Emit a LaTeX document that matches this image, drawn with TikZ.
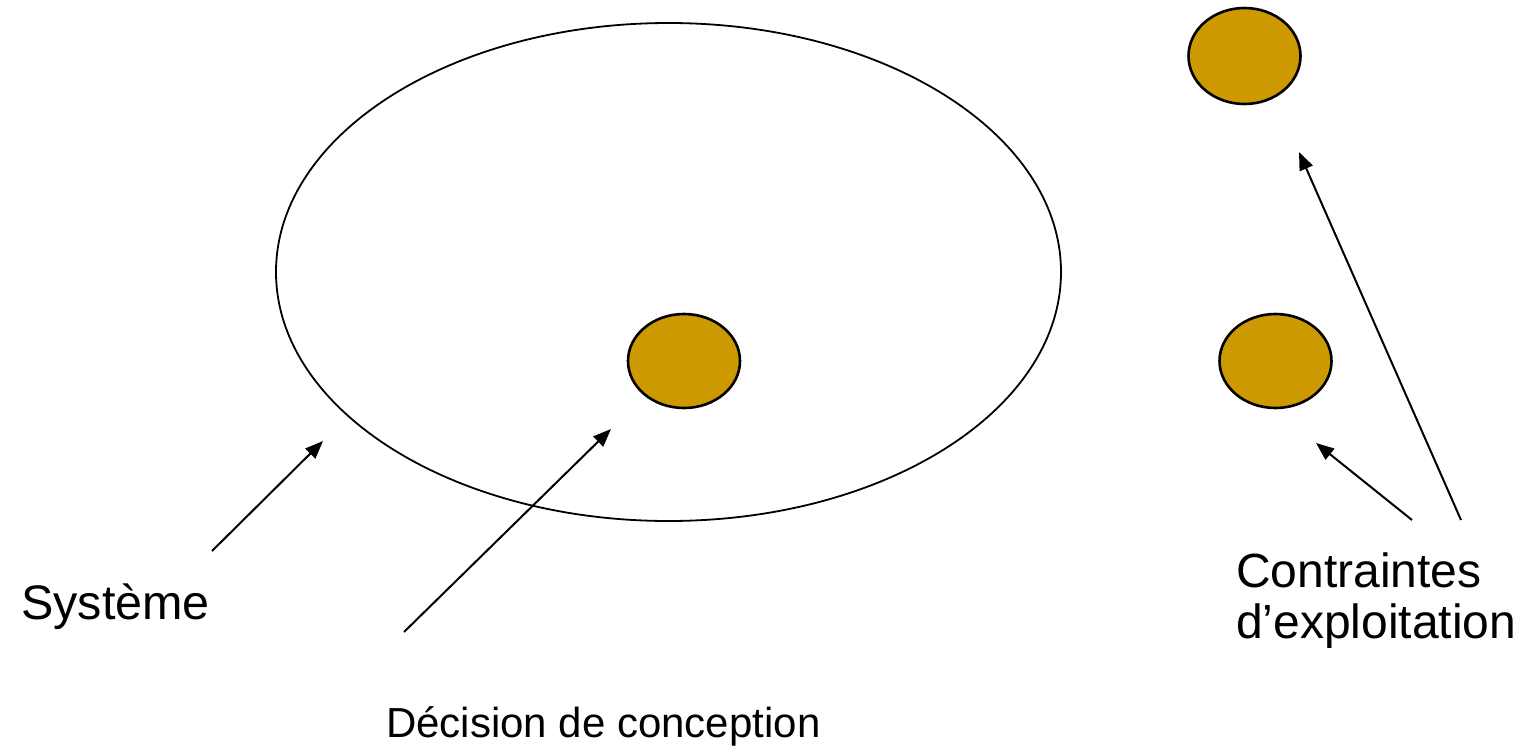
\documentclass[tikz,border=0pt]{standalone}
\usepackage{fontspec}
\setmainfont{Liberation Sans}
\usetikzlibrary{shapes.geometric,arrows.meta}
\definecolor{gold}{RGB}{204,153,0}
\tikzset{
  bigell/.style={draw=black,line width=1.8pt,ellipse,inner sep=0pt},
  dot/.style={draw=black,fill=gold,line width=2.6pt,ellipse,inner sep=0pt,minimum width=112pt,minimum height=94pt},
  lbl/.style={inner sep=0pt,anchor=base west,font=\fontsize{48.5}{51}\selectfont,align=left},
  arr/.style={line width=2pt,-{Triangle[length=18pt,width=14pt]}}
}
\begin{document}
\begin{tikzpicture}[x=1pt,y=-1pt]
\useasboundingbox (0,0) rectangle (1524,747);
\node[bigell,minimum width=785pt,minimum height=498pt] (sys) at (668.5,272) {};
\node[dot] (dec) at (684,361) {};
\node[dot,minimum height=96pt] (c1) at (1244.5,56) {};
\node[dot] (c2) at (1275.5,361) {};
\node[lbl] (tsys) at (21,619) {Système};
\node[lbl,font=\fontsize{42}{51}\selectfont] (tdec) at (386,737) {Décision de conception};
\node[lbl,anchor=north west,font=\fontsize{48}{51}\selectfont] (tcon) at (1236,553) {Contraintes\\d’exploitation};
\coordinate (s0) at (212,551);
\coordinate (s1) at (323,441);
\coordinate (d0) at (404,632);
\coordinate (d1) at (611,429);
\coordinate (k0) at (1412,520);
\coordinate (k1) at (1316,443);
\coordinate (m0) at (1461,520);
\coordinate (m1) at (1299,152);
\draw[arr] (s0) -- (s1);
\draw[arr] (d0) -- (d1);
\draw[arr] (k0) -- (k1);
\draw[arr] (m0) -- (m1);
\end{tikzpicture}
\end{document}
